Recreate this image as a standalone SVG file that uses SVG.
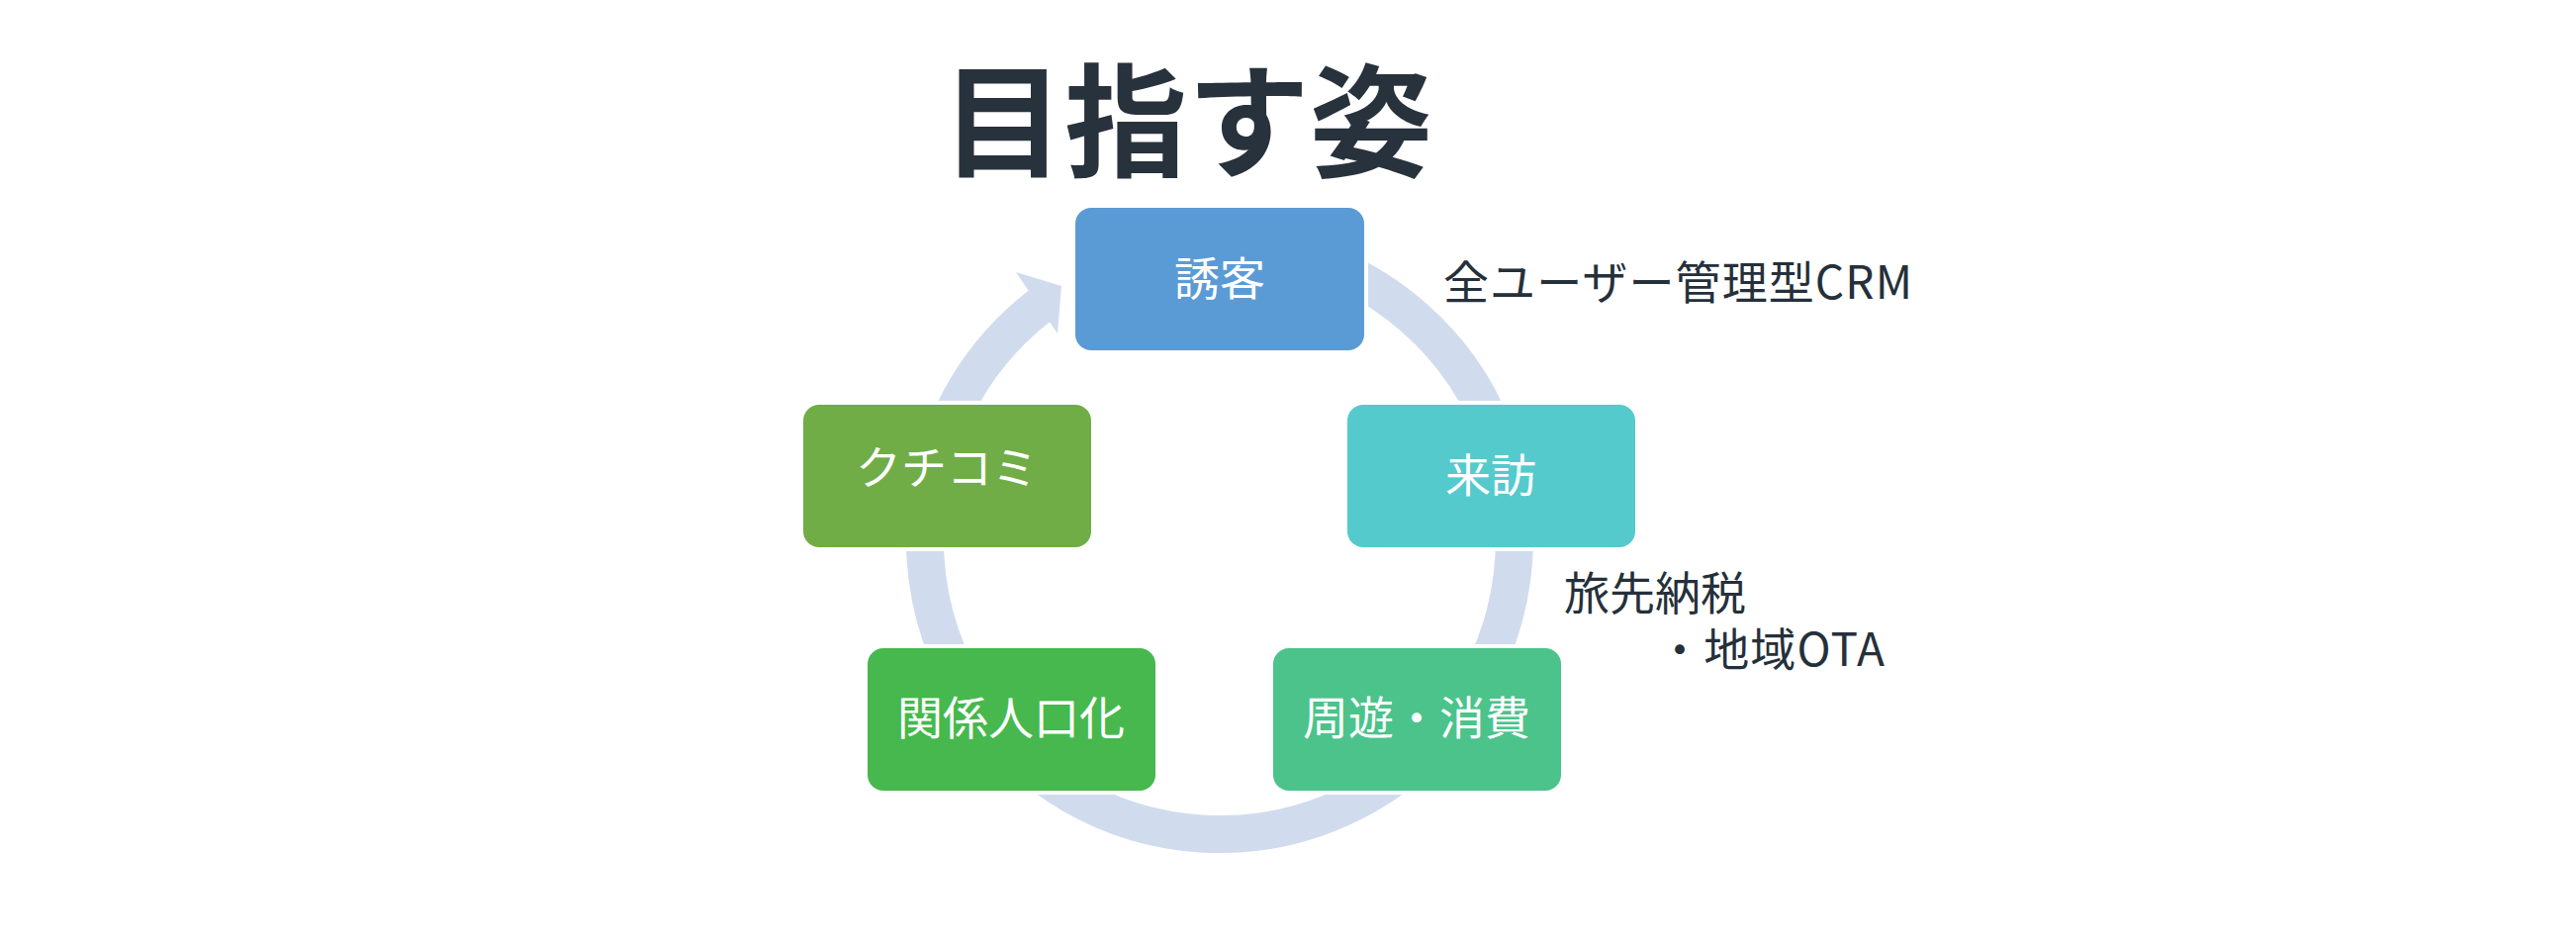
<svg xmlns="http://www.w3.org/2000/svg" width="2604" height="960" viewBox="0 0 2604 960">
  <style>
    .node rect { stroke: #FFFFFF; stroke-width: 8; paint-order: stroke fill; }
    .label { font-family: "Noto Sans CJK JP", "Noto Sans", sans-serif; font-size: 46px; fill: #FFFFFF; text-anchor: middle; dominant-baseline: central; }
    .note { font-family: "Noto Sans CJK JP", "Noto Sans", sans-serif; font-size: 46px; fill: #25303A; dominant-baseline: central; }
    .title { font-family: "Noto Sans CJK JP", "Noto Sans", sans-serif; font-size: 124px; font-weight: bold; fill: #28323C; text-anchor: middle; dominant-baseline: central; }
  </style>
  <rect x="0" y="0" width="2604" height="960" fill="#FFFFFF"/>

  <text class="title" x="1200" y="115">目指す姿</text>

  <g id="connectors">
    <path d="M 1155.9 257.2 A 298 298 0 1 1 1051.2 308.9" fill="none" stroke="#D0DCEE" stroke-width="38"/>
    <polygon points="1027,275 1073,289 1069,337" fill="#D0DCEE"/>
  </g>

  <g id="node-yukyaku" class="node">
    <rect x="1087" y="210" width="292" height="144" rx="16" fill="#5B9BD5"/>
    <text class="label" x="1233" y="278">誘客</text>
  </g>
  <g id="node-raihou" class="node">
    <rect x="1362" y="409" width="291" height="144" rx="16" fill="#54CACD"/>
    <text class="label" x="1507" y="477">来訪</text>
  </g>
  <g id="node-shuyu" class="node">
    <rect x="1287" y="655" width="291" height="144" rx="16" fill="#4BC38B"/>
    <text class="label" x="1432" y="722">周遊・消費</text>
  </g>
  <g id="node-kankei" class="node">
    <rect x="877" y="655" width="291" height="144" rx="16" fill="#46B84D"/>
    <text class="label" x="1022" y="722">関係人口化</text>
  </g>
  <g id="node-kuchikomi" class="node">
    <rect x="812" y="409" width="291" height="144" rx="16" fill="#70AD47"/>
    <text class="label" x="957" y="469">クチコミ</text>
  </g>

  <g id="notes">
    <text class="note" x="1459" y="282" textLength="474" lengthAdjust="spacing">全ユーザー管理型CRM</text>
    <text class="note" x="1581" y="596">旅先納税</text>
    <text class="note" x="1675" y="653" textLength="230" lengthAdjust="spacing">・地域OTA</text>
  </g>
</svg>
